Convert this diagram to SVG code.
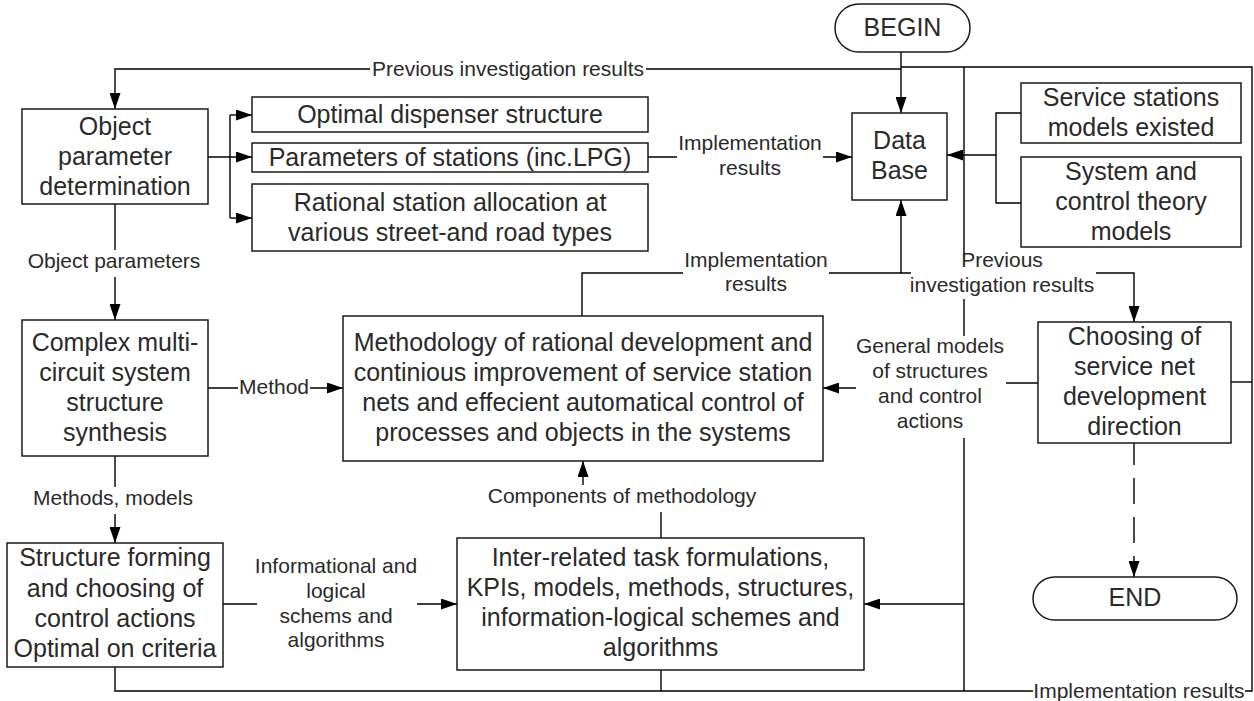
<svg xmlns="http://www.w3.org/2000/svg" width="1254" height="701" viewBox="0 0 1254 701">
<defs>
<marker id="arr" markerUnits="userSpaceOnUse" markerWidth="16" markerHeight="11" refX="16" refY="5.5" orient="auto"><path d="M0,0 L16,5.5 L0,11 z" fill="#000"/></marker>
<style>
.box{fill:#fff;stroke:#1a1a1a;stroke-width:1.5}
.t{font-family:"Liberation Sans",Arial,sans-serif;font-size:25px;fill:#2a2a2a;text-anchor:middle}
.l{font-family:"Liberation Sans",Arial,sans-serif;font-size:21px;fill:#2a2a2a;text-anchor:middle}
.c{fill:none;stroke:#000;stroke-width:1.4}
.a{marker-end:url(#arr)}
.d{stroke-dasharray:26 13}
</style>
</defs>
<rect width="1254" height="701" fill="#fff"/>

<g id="connectors">
<path class="c a" d="M901,69 H646 M370,69 H115 V109"/>
<path class="c a" d="M901,52 V113"/>
<path class="c a" d="M648,157 H677 M823,157 H852"/>
<path class="c" d="M1021,113 H996 V203 H1021"/>
<path class="c a" d="M996,155 H947"/>
<path class="c a" d="M582,316 V273 H683 M829,273 H901 V200"/>
<path class="c a" d="M901,273 H911 M1096,273 H1134 V322"/>
<path class="c a" d="M208,157 H252"/>
<path class="c" d="M230,115 V218"/>
<path class="c a" d="M230,115 H252"/>
<path class="c a" d="M230,218 H252"/>
<path class="c a" d="M115,204 V250 M115,277 V320"/>
<path class="c a" d="M208,388 H238 M310,388 H343"/>
<path class="c a" d="M115,456 V487 M115,514 V543"/>
<path class="c a" d="M223,604 H257 M417,604 H457"/>
<path class="c a" d="M661,538 V512 M583,485 V461"/>
<path class="c" d="M661,670 V691"/>
<path class="c" d="M115,667 V691 H1033 M1245,691 H1252 V67 H901"/>
<path class="c" d="M964,67 V257 M964,299 V336 M964,438 V691"/>
<path class="c a" d="M964,604 H864"/>
<path class="c a" d="M1038,383 H1006 M856,388 H823"/>
<path class="c" d="M1231,382 H1252"/>
<path class="c" d="M1134,443 V465"/>
<path class="c a d" d="M1134,478 V577"/>

<text class="l" x="508" y="76">Previous investigation results</text>
<text class="l" x="750" y="150">Implementation</text>
<text class="l" x="750" y="175">results</text>
<text class="l" x="756" y="267">Implementation</text>
<text class="l" x="756" y="291">results</text>
<text class="l" x="1002" y="267">Previous</text>
<text class="l" x="1002" y="292">investigation results</text>
<text class="l" x="930" y="353">General models</text>
<text class="l" x="930" y="378">of structures</text>
<text class="l" x="930" y="403">and control</text>
<text class="l" x="930" y="428">actions</text>
<text class="l" x="114" y="268">Object parameters</text>
<text class="l" x="274" y="394">Method</text>
<text class="l" x="113" y="505">Methods, models</text>
<text class="l" x="336" y="573">Informational and</text>
<text class="l" x="336" y="598">logical</text>
<text class="l" x="336" y="623">schems and</text>
<text class="l" x="336" y="647">algorithms</text>
<text class="l" x="622" y="503">Components of methodology</text>
<text class="l" x="1139" y="698">Implementation results</text>
</g>

<g id="begin">
<rect class="box" x="835" y="4" width="135" height="48" rx="24"/>
<text class="t" x="902.5" y="36">BEGIN</text>
</g>

<g id="object-parameter">
<rect class="box" x="22" y="109" width="186" height="95"/>
<text class="t" x="115" y="134.5">Object</text>
<text class="t" x="115" y="164.5">parameter</text>
<text class="t" x="115" y="194.5">determination</text>
</g>

<g id="optimal-dispenser">
<rect class="box" x="252" y="97" width="396" height="35"/>
<text class="t" x="450" y="122.5">Optimal dispenser structure</text>
</g>

<g id="parameters-stations">
<rect class="box" x="252" y="143" width="396" height="29"/>
<text class="t" x="450" y="165.5">Parameters of stations (inc.LPG)</text>
</g>

<g id="rational-allocation">
<rect class="box" x="252" y="184" width="396" height="67"/>
<text class="t" x="450" y="210.5">Rational station allocation at</text>
<text class="t" x="450" y="240.5">various street-and road types</text>
</g>

<g id="data-base">
<rect class="box" x="852" y="113" width="95" height="87"/>
<text class="t" x="899.5" y="148.5">Data</text>
<text class="t" x="899.5" y="178.5">Base</text>
</g>

<g id="service-models">
<rect class="box" x="1021" y="83" width="220" height="60"/>
<text class="t" x="1131" y="105.5">Service stations</text>
<text class="t" x="1131" y="135.5">models existed</text>
</g>

<g id="system-models">
<rect class="box" x="1021" y="157" width="220" height="90"/>
<text class="t" x="1131" y="180">System and</text>
<text class="t" x="1131" y="210">control theory</text>
<text class="t" x="1131" y="240">models</text>
</g>

<g id="complex-synthesis">
<rect class="box" x="22" y="320" width="186" height="136"/>
<text class="t" x="115" y="351">Complex multi-</text>
<text class="t" x="115" y="381">circuit system</text>
<text class="t" x="115" y="411">structure</text>
<text class="t" x="115" y="441">synthesis</text>
</g>

<g id="methodology">
<rect class="box" x="343" y="316" width="480" height="145"/>
<text class="t" x="583" y="351">Methodology of rational development and</text>
<text class="t" x="583" y="381">continious improvement of service station</text>
<text class="t" x="583" y="411">nets and effecient automatical control of</text>
<text class="t" x="583" y="441">processes and objects in the systems</text>
</g>

<g id="choosing-direction">
<rect class="box" x="1038" y="322" width="193" height="121"/>
<text class="t" x="1134.5" y="345">Choosing of</text>
<text class="t" x="1134.5" y="375">service net</text>
<text class="t" x="1134.5" y="405">development</text>
<text class="t" x="1134.5" y="435">direction</text>
</g>

<g id="structure-forming">
<rect class="box" x="7" y="543" width="216" height="124"/>
<text class="t" x="115" y="566">Structure forming</text>
<text class="t" x="115" y="596.5">and choosing of</text>
<text class="t" x="115" y="627">control actions</text>
<text class="t" x="115" y="657">Optimal on criteria</text>
</g>

<g id="inter-related">
<rect class="box" x="457" y="538" width="407" height="132"/>
<text class="t" x="660.5" y="566">Inter-related task formulations,</text>
<text class="t" x="660.5" y="596">KPIs, models, methods, structures,</text>
<text class="t" x="660.5" y="626">information-logical schemes and</text>
<text class="t" x="660.5" y="656">algorithms</text>
</g>

<g id="end">
<rect class="box" x="1033" y="577" width="204" height="43" rx="21.5"/>
<text class="t" x="1135" y="606">END</text>
</g>
</svg>
